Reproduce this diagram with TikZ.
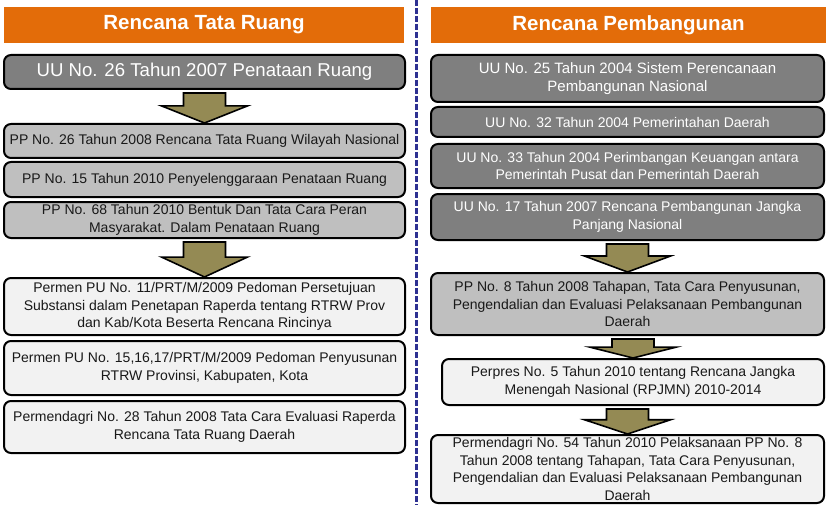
\documentclass[tikz,border=0pt]{standalone}
\usepackage{fontspec}
\setmainfont{Liberation Sans}
\usetikzlibrary{calc}

\definecolor{headorange}{RGB}{227,108,9}
\definecolor{darkgrey}{RGB}{127,127,127}
\definecolor{midgrey}{RGB}{191,191,191}
\definecolor{lightgrey}{RGB}{242,242,242}
\definecolor{arrowolive}{RGB}{148,138,84}
\definecolor{divnavy}{RGB}{46,49,146}

\newcommand{\boxfont}{\fontsize{14}{17.5}\selectfont}
% fat arrow from the box above down onto the box below
\newcommand{\downblock}[2]{%
\draw[blockarrow] let \p1=(#1.south), \p2=(#2.north), \n1={\y1-3pt-\y2} in
  (\x2-21pt,\y1-3pt) -- (\x2+21pt,\y1-3pt) -- (\x2+21pt,{\y2+0.57*\n1})
  -- (\x2+43pt,{\y2+0.57*\n1}) -- (\x2,\y2) -- (\x2-43pt,{\y2+0.57*\n1})
  -- (\x2-21pt,{\y2+0.57*\n1}) -- cycle;}

\begin{document}
\begin{tikzpicture}[x=1pt,y=-1pt,
  header/.style={fill=headorange, text=white, inner sep=0pt, minimum height=36pt,
    font=\fontsize{20.5}{24}\selectfont\bfseries},
  lawbox/.style={draw=black, line width=2pt, rounded corners=7pt, inner sep=0pt,
    align=center, font=\boxfont},
  darkbox/.style={lawbox, fill=darkgrey, text=white},
  midbox/.style={lawbox, fill=midgrey, text=black!90},
  lightbox/.style={lawbox, fill=lightgrey, text=black!90},
  leftcol/.style={minimum width=401pt},
  rightcol/.style={minimum width=393pt},
  blockarrow/.style={draw=black, fill=arrowolive, line width=1.6pt, line join=miter},
  divider/.style={draw=divnavy, line width=3pt, dash pattern=on 6pt off 2pt}]
\useasboundingbox (0,0) rectangle (826,505);
%
\coordinate(divtop) at (416,0);
\coordinate(divbot) at (416,505);
\draw[divider](divtop) -- (divbot);
%
\node[header, minimum width=400pt](hleft) at (204,25) {Rencana Tata Ruang};
\node[header, minimum width=395pt](hright) at (628.5,25) {Rencana Pembangunan};
%
% Rencana Tata Ruang
\node[darkbox, leftcol, minimum height=34pt, font=\fontsize{18.6}{22}\selectfont](uu26) at (204.5,72) {UU No. 26 Tahun 2007 Penataan Ruang};
\node[midbox, leftcol, minimum height=34pt](pp26) at (204.5,141) {PP No. 26 Tahun 2008 Rencana Tata Ruang Wilayah Nasional};
\node[midbox, leftcol, minimum height=35pt](pp15) at (204.5,179.5) {PP No. 15 Tahun 2010 Penyelenggaraan Penataan Ruang};
\node[midbox, leftcol, minimum height=36pt](pp68) at (204.5,220) {PP No. 68 Tahun 2010 Bentuk Dan Tata Cara Peran\\Masyarakat. Dalam Penataan Ruang};
\node[lightbox, leftcol, minimum height=57pt](permen11) at (204.5,306.5) {Permen PU No. 11/PRT/M/2009 Pedoman Persetujuan\\Substansi dalam Penetapan Raperda tentang RTRW Prov\\dan Kab/Kota Beserta Rencana Rincinya};
\node[lightbox, leftcol, minimum height=54pt](permen15) at (204.5,368) {Permen PU No. 15,16,17/PRT/M/2009 Pedoman Penyusunan\\RTRW Provinsi, Kabupaten, Kota};
\node[lightbox, leftcol, minimum height=52pt](mdagri28) at (204.5,427) {Permendagri No. 28 Tahun 2008 Tata Cara Evaluasi Raperda\\Rencana Tata Ruang Daerah};
%
% Rencana Pembangunan
\node[darkbox, rightcol, minimum height=47pt, font=\fontsize{15}{18}\selectfont](uu25) at (627.5,78.5) {UU No. 25 Tahun 2004 Sistem Perencanaan\\Pembangunan Nasional};
\node[darkbox, rightcol, minimum height=30pt](uu32) at (627.5,122) {UU No. 32 Tahun 2004 Pemerintahan Daerah};
\node[darkbox, rightcol, minimum height=44pt](uu33) at (627.5,166) {UU No. 33 Tahun 2004 Perimbangan Keuangan antara\\Pemerintah Pusat dan Pemerintah Daerah};
\node[darkbox, rightcol, minimum height=46pt](uu17) at (627.5,217) {UU No. 17 Tahun 2007 Rencana Pembangunan Jangka\\Panjang Nasional};
\node[midbox, rightcol, minimum height=62pt](pp8) at (627.5,304) {PP No. 8 Tahun 2008 Tahapan, Tata Cara Penyusunan,\\Pengendalian dan Evaluasi Pelaksanaan Pembangunan\\Daerah};
\node[lightbox, minimum width=382pt, minimum height=46pt](perpres5) at (633,382) {Perpres No. 5 Tahun 2010 tentang Rencana Jangka\\Menengah Nasional (RPJMN) 2010-2014};
\node[lightbox, rightcol, minimum height=68pt](mdagri54) at (627.5,469) {Permendagri No. 54 Tahun 2010 Pelaksanaan PP No. 8\\Tahun 2008 tentang Tahapan, Tata Cara Penyusunan,\\Pengendalian dan Evaluasi Pelaksanaan Pembangunan\\Daerah};
%
\downblock{uu26}{pp26}
\downblock{pp68}{permen11}
\downblock{uu17}{pp8}
\downblock{pp8}{perpres5}
\downblock{perpres5}{mdagri54}
\end{tikzpicture}
\end{document}
